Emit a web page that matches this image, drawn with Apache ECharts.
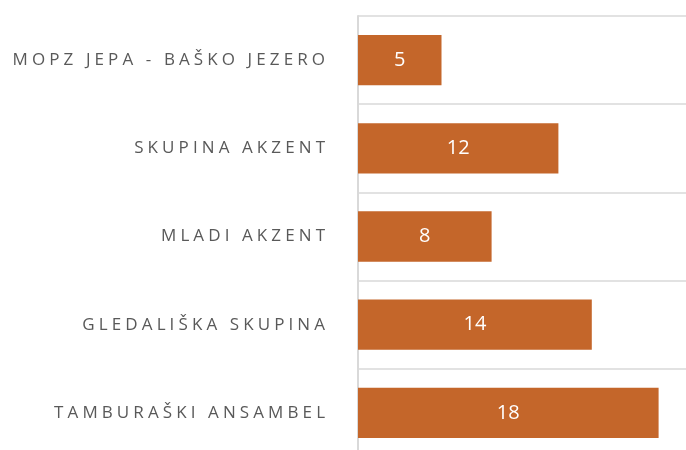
<!DOCTYPE html>
<html lang="sl">
<head>
    <meta charset="UTF-8">
    <title>Skupine</title>
    <script type="text/javascript" src="https://cdn.jsdelivr.net/npm/echarts@6/dist/echarts.min.js"></script>
    <style>
        body { margin: 0; overflow: hidden; background: #fff; }
        #main { width: 692px; height: 460px; }
    </style>
</head>
<body>
    <div id="main"></div>
</body>

<script type="text/javascript">
    // skupine od zgoraj navzdol
    var groups = ['MOPZ JEPA - BAŠKO JEZERO', 'SKUPINA AKZENT', 'MLADI AKZENT', 'GLEDALIŠKA SKUPINA', 'TAMBURAŠKI ANSAMBEL'];
    var members = [5, 12, 8, 14, 18];

    // razmik med crkami (rich text, vsaka crka svoj kos)
    function spaced(value) {
        var out = '';
        for (var i = 0; i < value.length; i++) {
            out += '{' + (i == 0 ? 'f' : 's') + '|' + value.charAt(i) + '}';
        }
        return out;
    }

    var letter = { color: '#595959', fontFamily: 'Open Sans', fontSize: 17 };

    var myChart = echarts.init(document.getElementById('main'));
    var option = {
        animation: false,
        grid: { left: 358, right: 0, top: 16, bottom: 3 },
        xAxis: {
            type: 'value',
            min: 0,
            max: 20,
            show: false
        },
        yAxis: {
            type: 'category',
            data: groups,
            inverse: true,
            axisLine: { show: true, lineStyle: { color: '#d9d9d9', width: 2 } },
            axisTick: { show: false },
            splitLine: { show: true, lineStyle: { color: '#d9d9d9', width: 1.5 } },
            axisLabel: {
                color: '#595959',
                fontFamily: 'Open Sans',
                fontSize: 17,
                margin: 33,
                formatter: spaced,
                rich: {
                    f: letter,
                    s: Object.assign({ padding: [0, 0, 0, 4.1] }, letter)
                }
            }
        },
        series: [{
            type: 'bar',
            data: members,
            barCategoryGap: '43%',
            itemStyle: { color: '#C4662A' },
            label: {
                show: true,
                position: 'inside',
                color: '#ffffff',
                fontFamily: 'Open Sans',
                fontSize: 20
            }
        }]
    };
    myChart.setOption(option);
</script>
</html>
